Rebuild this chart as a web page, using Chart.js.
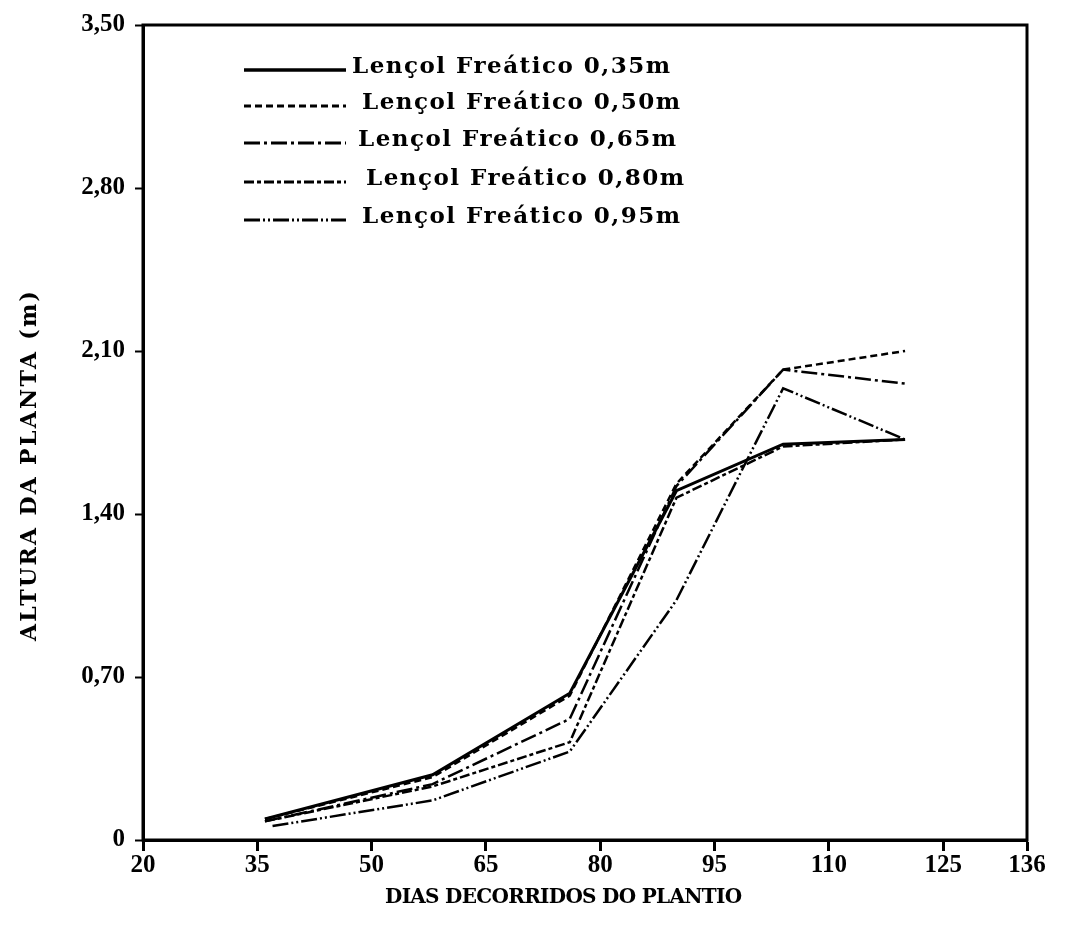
<!DOCTYPE html>
<html>
<head>
<meta charset="utf-8">
<script src="https://cdn.jsdelivr.net/npm/chart.js@4.4.1/dist/chart.umd.min.js"></script>
<style>
  html, body { margin: 0; padding: 0; background: #fff; }
  #wrap { width: 1065px; height: 937px; }
</style>
</head>
<body>
<div id="wrap"><canvas id="grafico"></canvas></div>
<script>
// dias apos o plantio e alturas (m)
const dias = [36, 58, 76, 90, 104, 120];
const dias095 = [37, 58, 76, 90, 104, 120];
const altura035 = [0.09, 0.28, 0.63, 1.50, 1.70, 1.72];
const altura050 = [0.09, 0.27, 0.62, 1.53, 2.02, 2.10];
const altura065 = [0.08, 0.24, 0.52, 1.52, 2.02, 1.96];
const altura080 = [0.08, 0.23, 0.42, 1.47, 1.69, 1.72];
const altura095 = [0.06, 0.17, 0.38, 1.03, 1.94, 1.72];
const nomes = ['Lençol Freático 0,35m', 'Lençol Freático 0,50m', 'Lençol Freático 0,65m',
               'Lençol Freático 0,80m', 'Lençol Freático 0,95m'];
const xTicks = [20, 35, 50, 65, 80, 95, 110, 125, 136];
const yTicks = [0, 0.7, 1.4, 2.1, 2.8, 3.5];
const yTickLabels = ['0', '0,70', '1,40', '2,10', '2,80', '3,50'];

const pares = (xs, ys) => xs.map((x, i) => ({ x: x, y: ys[i] }));

function serie(label, xs, ys, dash, w) {
  return {
    label: label,
    data: pares(xs, ys),
    borderColor: '#000',
    borderWidth: w,
    borderDash: dash,
    pointRadius: 0,
    tension: 0,
    fill: false
  };
}

// texto com espacamento ajustado para uma largura
function textoLargura(ctx, txt, x, y, largura) {
  ctx.letterSpacing = '0px';
  const w = ctx.measureText(txt).width;
  const esp = (largura - w) / (txt.length - 1);
  ctx.letterSpacing = esp.toFixed(2) + 'px';
  ctx.fillText(txt, x, y);
  ctx.letterSpacing = '0px';
}

const moldura = {
  id: 'moldura',
  afterDatasetsDraw(chart) {
    const a = chart.chartArea, ctx = chart.ctx;
    ctx.save();
    ctx.strokeStyle = '#000';
    ctx.lineWidth = 3;
    ctx.setLineDash([]);
    ctx.strokeRect(a.left, a.top, a.right - a.left, a.bottom - a.top);
    ctx.restore();
  }
};

const legenda = {
  id: 'legenda',
  afterDraw(chart) {
    const ctx = chart.ctx;
    const linhasY = [70, 106, 143, 182, 220];
    const textoX = [352, 362, 358, 366, 362];
    ctx.save();
    chart.data.datasets.forEach((ds, i) => {
      ctx.strokeStyle = '#000';
      ctx.lineWidth = ds.borderWidth + 0.5;
      ctx.setLineDash(ds.borderDash);
      ctx.beginPath();
      ctx.moveTo(244, linhasY[i]);
      ctx.lineTo(346, linhasY[i]);
      ctx.stroke();
      ctx.setLineDash([]);
      ctx.fillStyle = '#000';
      ctx.font = 'bold 23px "DejaVu Serif"';
      ctx.textBaseline = 'middle';
      ctx.textAlign = 'left';
      textoLargura(ctx, ds.label, textoX[i], linhasY[i] - 3, 318);
    });
    ctx.restore();
  }
};

const titulos = {
  id: 'titulos',
  afterDraw(chart) {
    const ctx = chart.ctx;
    ctx.save();
    ctx.fillStyle = '#000';
    ctx.font = 'bold 20px "DejaVu Serif"';
    ctx.textBaseline = 'middle';
    ctx.textAlign = 'left';
    textoLargura(ctx, 'DIAS DECORRIDOS DO PLANTIO', 385, 898, 357);
    ctx.font = 'bold 22px "DejaVu Serif"';
    ctx.translate(30, 465);
    ctx.rotate(-Math.PI / 2);
    textoLargura(ctx, 'ALTURA DA PLANTA (m)', -176, 0, 350);
    ctx.restore();
  }
};

new Chart(document.getElementById('grafico'), {
  type: 'line',
  data: {
    datasets: [
      serie(nomes[0], dias, altura035, [], 3),
      serie(nomes[1], dias, altura050, [7, 4], 2.5),
      serie(nomes[2], dias, altura065, [16, 4, 3, 4], 2.5),
      serie(nomes[3], dias, altura080, [10, 3, 4, 3], 2.5),
      serie(nomes[4], dias095, altura095, [16, 3, 2, 3, 2, 3], 2.5)
    ]
  },
  options: {
    responsive: true,
    maintainAspectRatio: false,
    animation: false,
    devicePixelRatio: 1,
    layout: { padding: { top: 25, right: 38, left: 0, bottom: 0 } },
    plugins: {
      legend: { display: false },
      tooltip: { enabled: false }
    },
    scales: {
      x: {
        type: 'linear',
        min: 20,
        max: 136,
        afterBuildTicks: (s) => { s.ticks = xTicks.map(v => ({ value: v })); },
        afterFit: (s) => { s.height = 97; },
        ticks: {
          color: '#000',
          font: { family: 'Liberation Serif', size: 25, weight: 'bold' },
          padding: 0,
          maxRotation: 0,
          autoSkip: false
        },
        grid: { drawOnChartArea: false, drawTicks: true, tickLength: 11, tickColor: '#000', tickWidth: 3 },
        border: { display: true, color: '#000', width: 3 }
      },
      y: {
        min: 0,
        max: 3.5,
        afterBuildTicks: (s) => { s.ticks = yTicks.map(v => ({ value: v })); },
        afterFit: (s) => { s.width = 143; },
        ticks: {
          color: '#000',
          font: { family: 'Liberation Serif', size: 25, weight: 'bold' },
          padding: 10,
          autoSkip: false,
          callback: (v, i) => yTickLabels[i]
        },
        grid: { drawOnChartArea: false, drawTicks: true, tickLength: 8, tickColor: '#000', tickWidth: 2 },
        border: { display: true, color: '#000', width: 3 }
      }
    }
  },
  plugins: [moldura, legenda, titulos]
});
</script>
</body>
</html>
